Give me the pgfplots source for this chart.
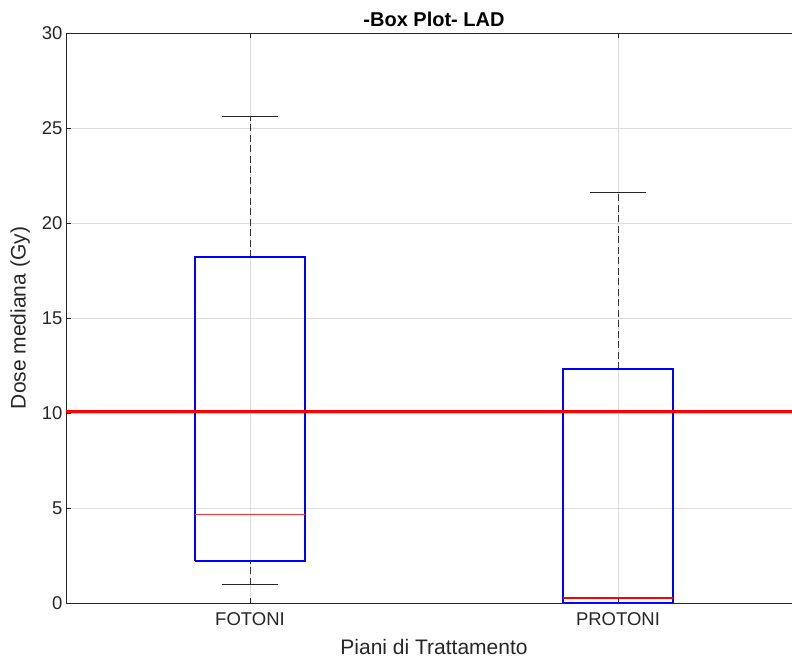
\documentclass[border=0pt]{standalone}
\usepackage{pgfplots}
\pgfplotsset{compat=1.18}
\usepackage{fontspec}
\setmainfont{Liberation Sans}
\definecolor{axgray}{gray}{0.15}
\definecolor{gridgray}{gray}{0.87}
\begin{document}
\begin{tikzpicture}
\begin{axis}[
  name=ax,
  scale only axis,
  width=736pt, height=570pt,
  xmin=0.5, xmax=2.5, ymin=0, ymax=30,
  xtick={1,2}, xticklabels={FOTONI,PROTONI},
  ytick={0,5,...,30},
  tick align=inside,
  major tick length=5pt,
  grid=major,
  major grid style={gridgray, line width=0.6pt},
  axis line style={axgray, line width=0.7pt},
  tick style={axgray, line width=0.7pt},
  ticklabel style={font=\fontsize{18.5}{20}\selectfont, text=axgray},
  xticklabel style={yshift=-6pt},
  /pgf/number format/assume math mode=true,
  xlabel={Piani di Trattamento},
  ylabel={Dose mediana (Gy)},
  label style={font=\fontsize{21}{23}\selectfont, text=axgray},
  title={\textbf{-Box Plot- LAD}},
  title style={font=\fontsize{20}{22}\selectfont, text=black, yshift=-3pt},
  xlabel style={yshift=-7pt},
  ylabel style={yshift=5pt},
  clip=true,
]
% whiskers
\addplot[black!80, line width=0.9pt, dash pattern=on 7pt off 3.5pt] coordinates {(1,18.2) (1,25.6)};
\addplot[black!80, line width=0.9pt, dash pattern=on 7pt off 3.5pt] coordinates {(1,0.95) (1,2.2)};
\addplot[black!80, line width=0.9pt, dash pattern=on 7pt off 3.5pt] coordinates {(2,12.3) (2,21.6)};
% caps
\addplot[black!85, line width=0.9pt] coordinates {(0.925,25.6) (1.075,25.6)};
\addplot[black!85, line width=0.9pt] coordinates {(0.925,0.95) (1.075,0.95)};
\addplot[black!85, line width=0.9pt] coordinates {(1.925,21.6) (2.075,21.6)};
\addplot[black!85, line width=0.9pt] coordinates {(1.925,0) (2.075,0)};
% boxes
\addplot[blue, line width=1.6pt] coordinates {(0.85,2.2) (1.15,2.2) (1.15,18.2) (0.85,18.2) (0.85,2.2)};
\addplot[blue, line width=1.6pt] coordinates {(1.85,0) (2.15,0) (2.15,12.3) (1.85,12.3) (1.85,0)};
% medians
\addplot[red!80, line width=1.5pt] coordinates {(0.85,4.65) (1.15,4.65)};
\addplot[red, line width=1.6pt] coordinates {(1.85,0.25) (2.15,0.25)};
% threshold
\addplot[red, line width=3.2pt] coordinates {(0.5,10.08) (2.5,10.08)};
\end{axis}
\pgfresetboundingbox
\useasboundingbox ([xshift=-66pt,yshift=-59pt]ax.south west) rectangle ([xshift=-10pt,yshift=33pt]ax.north east);
\end{tikzpicture}
\end{document}
